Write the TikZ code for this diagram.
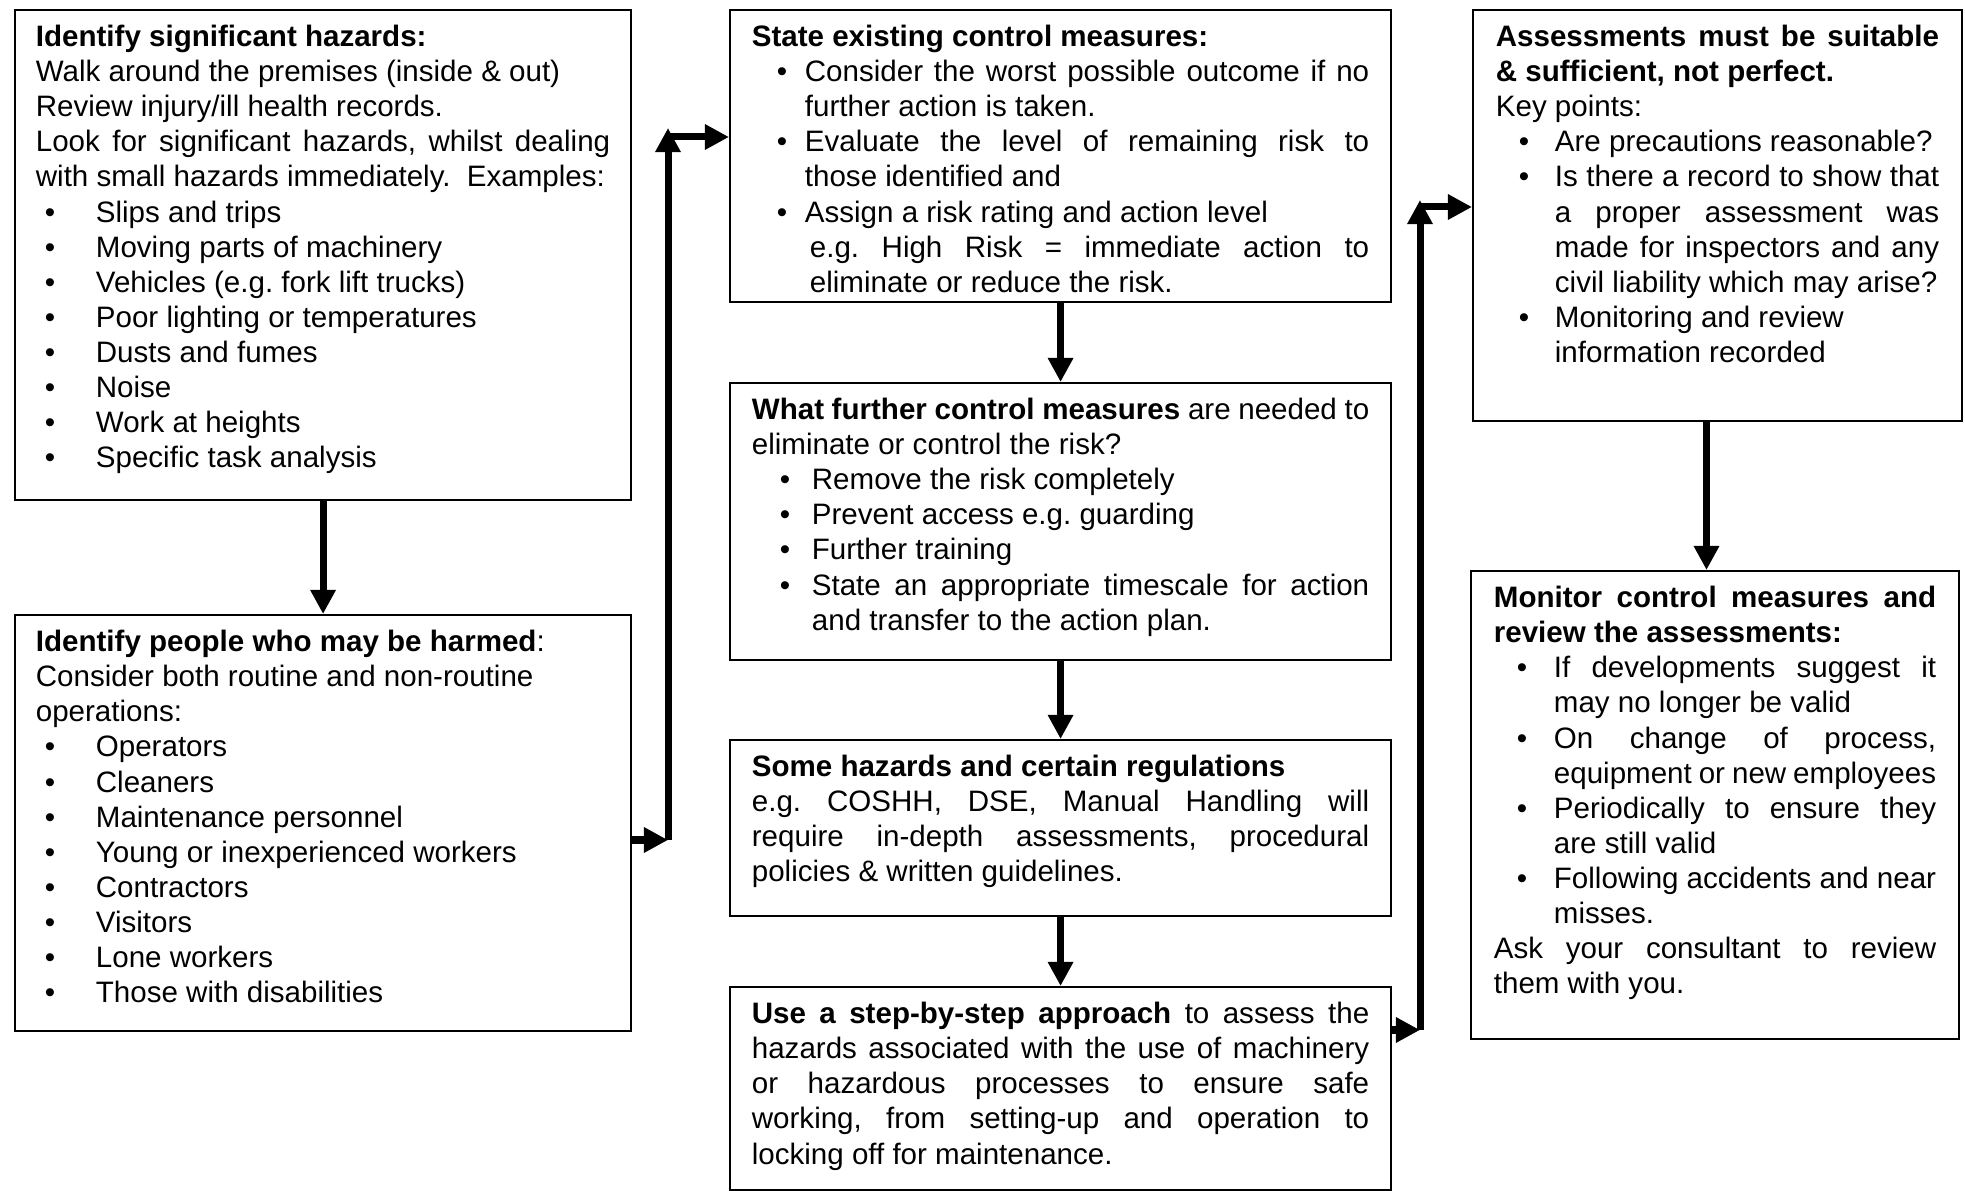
\documentclass[tikz,border=0pt]{standalone}
\usepackage{fontspec}
\setmainfont{Liberation Sans}
\usepackage{tikz}
\usetikzlibrary{arrows.meta}

\hyphenpenalty=10000
\exhyphenpenalty=10000
\frenchspacing

\newlength\itmbul
\newlength\itmtxt
\newcommand{\itm}[1]{\par\noindent\hangindent=\itmtxt\makebox[\itmtxt][l]{\hspace*{\itmbul}\textbullet}#1}
\newcommand{\card}[5]{\begin{minipage}[t][#2][t]{#1}\setlength\itmbul{#3}\setlength\itmtxt{#4}\rule{0pt}{0.37cm}#5\end{minipage}}

\tikzset{
  box/.style={draw,line width=0.5pt,inner ysep=0pt,anchor=north west,font=\fontsize{8.4}{9.96}\selectfont},
  flow/.style={line width=0.07cm,-{Triangle[length=0.24cm,width=0.24cm]}}
}

\begin{document}
\begin{tikzpicture}[x=0.01cm,y=0.01cm]
    \useasboundingbox (0,0) rectangle (1965,-1191);

    \node[box,inner xsep=0.21cm] (hazards) at (14,-9) {\card{5.74cm}{4.90cm}{0.09cm}{0.60cm}{%
      \textbf{Identify significant hazards:}\\
      Walk around the premises (inside \& out)\\
      Review injury/ill health records.\\
      Look for significant hazards, whilst dealing\linebreak with small hazards immediately.\ \ Examples:
      \itm{Slips and trips}
      \itm{Moving parts of machinery}
      \itm{Vehicles (e.g. fork lift trucks)}
      \itm{Poor lighting or temperatures}
      \itm{Dusts and fumes}
      \itm{Noise}
      \itm{Work at heights}
      \itm{Specific task analysis}}};
    \node[box,inner xsep=0.21cm] (people) at (14,-614) {\card{5.74cm}{4.16cm}{0.09cm}{0.60cm}{%
      \textbf{Identify people who may be harmed}:\\
      Consider both routine and non-routine\\
      operations:
      \itm{Operators}
      \itm{Cleaners}
      \itm{Maintenance personnel}
      \itm{Young or inexperienced workers}
      \itm{Contractors}
      \itm{Visitors}
      \itm{Lone workers}
      \itm{Those with disabilities}}};

    \node[box,inner xsep=0.22cm] (existing) at (729,-9) {\card{6.17cm}{2.92cm}{0.25cm}{0.53cm}{%
      \textbf{State existing control measures:}
      \itm{Consider the worst possible outcome if no\linebreak further action is taken.}
      \itm{Evaluate the level of remaining risk to\linebreak those identified and}
      \itm{Assign a risk rating and action level\\\hspace*{0.05cm}e.g. High Risk = immediate action to\linebreak\hspace*{0.05cm}eliminate or reduce the risk.}}};
    \node[box,inner xsep=0.22cm] (further) at (729,-382) {\card{6.17cm}{2.77cm}{0.28cm}{0.60cm}{%
      \textbf{What further control measures} are needed to\linebreak eliminate or control the risk?
      \itm{Remove the risk completely}
      \itm{Prevent access e.g. guarding}
      \itm{Further training}
      \itm{State an appropriate timescale for action\linebreak and transfer to the action plan.}}};
    \node[box,inner xsep=0.22cm] (regs) at (729,-739) {\card{6.17cm}{1.76cm}{0pt}{0pt}{%
      \textbf{Some hazards and certain regulations}\\
      e.g. COSHH, DSE, Manual Handling will\linebreak require in-depth assessments, procedural\linebreak policies \& written guidelines.}};
    \node[box,inner xsep=0.22cm] (stepwise) at (729,-986) {\card{6.17cm}{2.03cm}{0pt}{0pt}{%
      \textbf{Use a step-by-step approach} to assess the\linebreak hazards associated with the use of machinery\linebreak or hazardous processes to ensure safe\linebreak working, from setting-up and operation to\linebreak locking off for maintenance.}};

    \node[box,inner xsep=0.23cm] (suitable) at (1472,-9) {\card{4.43cm}{4.11cm}{0.23cm}{0.59cm}{%
      \textbf{Assessments must be suitable\linebreak \& sufficient, not perfect.}\\
      Key points:
      \itm{Are precautions reasonable?}
      \itm{Is there a record to show that\linebreak a proper assessment was\linebreak made for inspectors and any\linebreak civil liability which may arise?}
      \itm{Monitoring and review\\information recorded}}};
    \node[box,inner xsep=0.23cm] (monitor) at (1470,-570) {\card{4.42cm}{4.68cm}{0.23cm}{0.60cm}{%
      \textbf{Monitor control measures and\linebreak review the assessments:}
      \itm{If developments suggest it\linebreak may no longer be valid}
      \itm{On change of process,\linebreak equipment or new employees}
      \itm{Periodically to ensure they\linebreak are still valid}
      \itm{Following accidents and near\linebreak misses.}
      \par Ask your consultant to review\linebreak them with you.}};

    % elbow joints
    \coordinate (j1) at (668,-840);
    \coordinate (j2) at (668,-128);
    \coordinate (j3) at (668,-137);
    \coordinate (k1) at (1420,-1030);
    \coordinate (k2) at (1420,-200);
    \coordinate (k3) at (1420,-207);

    \draw[flow] (hazards.south) -- (people.north);
    \draw[flow] (people.east |- j1) -- (j1);
    \draw[flow] (j1) -- (j2);
    \draw[flow] (j3) -- (existing.west |- j3);
    \draw[flow] (existing.south) -- (further.north);
    \draw[flow] (further.south) -- (regs.north);
    \draw[flow] (regs.south) -- (stepwise.north);
    \draw[flow] (stepwise.east |- k1) -- (k1);
    \draw[flow] (k1) -- (k2);
    \draw[flow] (k3) -- (suitable.west |- k3);
    \draw[flow] ([xshift=-0.11cm]suitable.south) -- ([xshift=-0.11cm]suitable.south |- monitor.north);
\end{tikzpicture}
\end{document}
